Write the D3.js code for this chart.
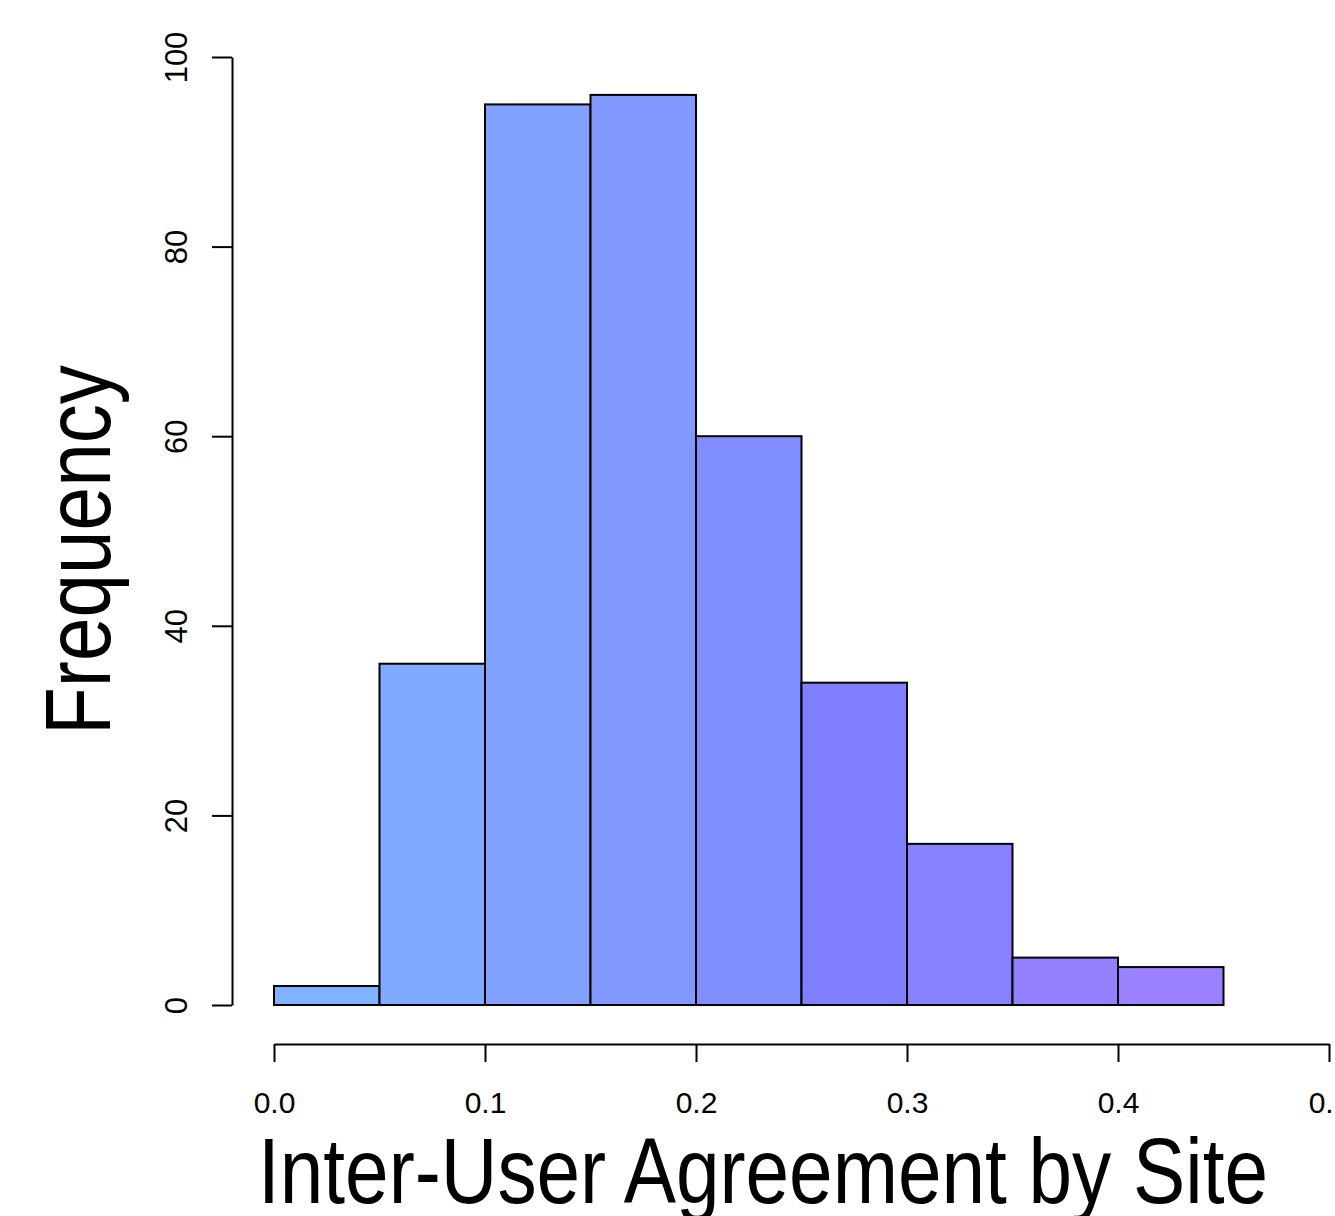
<!DOCTYPE html>
<html>
<head>
<meta charset="utf-8">
<script src="https://cdn.jsdelivr.net/npm/d3@7"></script>
<style>
  body { margin: 0; background: #fff; }
  text { font-family: "Liberation Sans", Arial, Helvetica, sans-serif; fill: #000; }
</style>
</head>
<body>
<div id="chart"></div>
<script>
// histogram bins (left edges) and counts
const binStarts = [0.00, 0.05, 0.10, 0.15, 0.20, 0.25, 0.30, 0.35, 0.40];
const binWidth = 0.05;
const counts = [2, 36, 95, 96, 60, 34, 17, 5, 4];
const barColors = ['#80b3ff', '#80aaff', '#80a1ff', '#8098ff', '#808eff', '#8080ff', '#8880ff', '#9280ff', '#9b80ff'];
const xTicks = [0.0, 0.1, 0.2, 0.3, 0.4, 0.5];
const yTicks = [0, 20, 40, 60, 80, 100];

const width = 1335, height = 1216;

const svg = d3.select('#chart')
    .append('svg')
    .attr('width', width)
    .attr('height', height);

const x = d3.scaleLinear().domain([0, 0.5]).range([274, 1329]);
const y = d3.scaleLinear().domain([0, 100]).range([1005, 57]);

// bars
svg.append('g')
    .selectAll('rect')
    .data(counts)
    .enter()
    .append('rect')
    .attr('x', (d, i) => x(binStarts[i]))
    .attr('y', d => y(d))
    .attr('width', (d, i) => x(binStarts[i] + binWidth) - x(binStarts[i]))
    .attr('height', d => y(0) - y(d))
    .style('fill', (d, i) => barColors[i])
    .style('stroke', '#000')
    .style('stroke-width', 2);

// x axis
const xAxis = svg.append('g')
    .attr('transform', 'translate(0,1044)')
    .call(d3.axisBottom(x).tickValues(xTicks).tickFormat(d3.format('.1f')).tickSize(18).tickSizeOuter(0).tickPadding(30));
xAxis.select('.domain').style('stroke-width', 2);
xAxis.selectAll('line').style('stroke-width', 2);
xAxis.selectAll('text').style('font-size', '30px').attr('font-family', null);

// y axis
const yAxis = svg.append('g')
    .attr('transform', 'translate(232,0)')
    .call(d3.axisLeft(y).tickValues(yTicks).tickSize(20).tickSizeOuter(0).tickPadding(0));
yAxis.select('.domain').style('stroke-width', 2);
yAxis.selectAll('line').style('stroke-width', 2);
yAxis.selectAll('text')
    .style('font-size', '31px')
    .attr('font-family', null)
    .attr('x', null).attr('dy', null)
    .attr('text-anchor', 'middle')
    .attr('transform', 'translate(-45,0) rotate(-90)');

// axis titles
svg.append('text')
    .attr('x', 763)
    .attr('y', 1203)
    .attr('text-anchor', 'middle')
    .attr('textLength', 1010)
    .attr('lengthAdjust', 'spacingAndGlyphs')
    .style('font-size', '92px')
    .text('Inter-User Agreement by Site');

svg.append('text')
    .attr('transform', 'translate(110,550) rotate(-90)')
    .attr('text-anchor', 'middle')
    .attr('textLength', 370)
    .attr('lengthAdjust', 'spacingAndGlyphs')
    .style('font-size', '93px')
    .text('Frequency');
</script>
</body>
</html>
